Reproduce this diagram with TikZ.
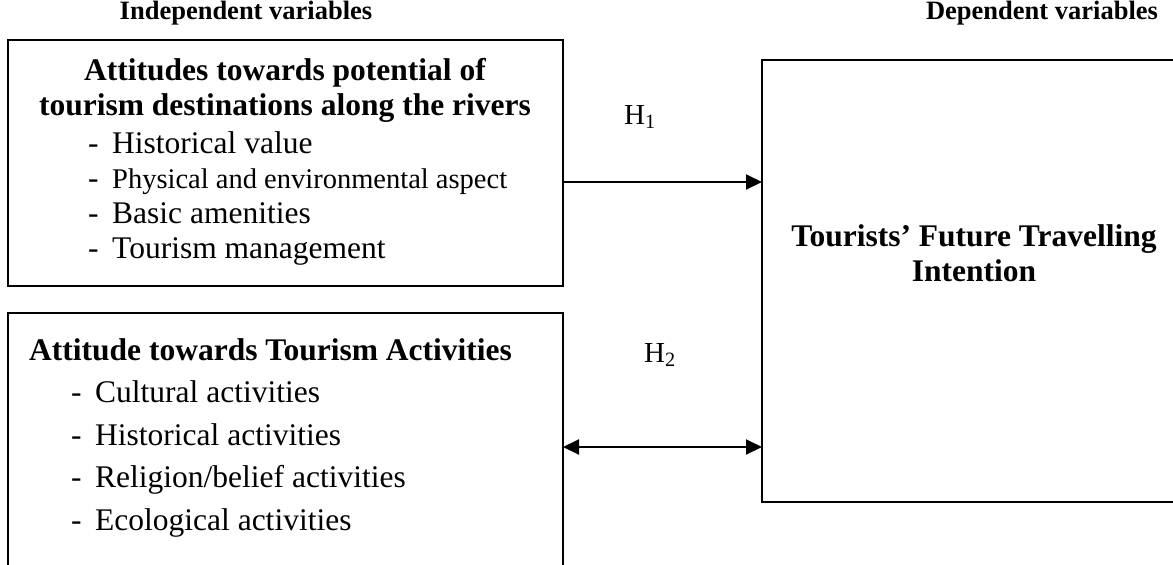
\documentclass[tikz,border=0pt]{standalone}
\usepackage{fontspec}
\setmainfont{Liberation Serif}
\usepackage{tikz}
\usetikzlibrary{positioning, arrows.meta}
\tikzset{
	box/.style={draw, line width=2pt, inner sep=0pt, outer sep=0pt}, % frame of each variable group
	head/.style={font=\fontsize{26.5}{30}\selectfont\bfseries}, % column headings
	title/.style={font=\fontsize{31.5}{35}\selectfont\bfseries, align=center, inner sep=0pt}, % box titles
	items/.style={font=\fontsize{31.5}{35}\selectfont, align=left, inner sep=0pt, anchor=west}, % the dashed lists
	link/.style={line width=2pt, -{Triangle[length=16pt, width=15pt]}}, % one way arrow
	hyp/.style={font=\fontsize{29}{34}\selectfont}, % hypothesis labels
}
\newcommand{\dash}[1]{\makebox[24pt][l]{-}#1}

\begin{document}
\begin{tikzpicture}[x=1pt, y=-1pt]
		\useasboundingbox (0,0) rectangle (1173,565);
		% Headings
		\node[head] (hind) at (246,13) {Independent variables};
		\node[head] (hdep) at (1042,13) {Dependent variables};
		
		% Boxes
		\node[box, minimum width=555pt, minimum height=246pt] (iv1) at (285.5,163) {};
		\node[box, minimum width=555pt, minimum height=280pt] (iv2) at (285.5,453) {};
		\node[box, minimum width=420pt, minimum height=442pt] (dv) at (972,281) {};
		
		% Box texts
		\node[title] (t1) at (285,90) {Attitudes towards potential of\\tourism destinations along the rivers};
		\node[items] (l1) at (88,198) {\dash{Historical value}\\
			\dash{{\fontsize{28.5}{35}\selectfont Physical and environmental aspect}}\\
			\dash{Basic amenities}\\
			\dash{Tourism management}};
		\node[title, anchor=west] (t2) at (29,350) {Attitude towards Tourism Activities};
		\node[items, font=\fontsize{31.5}{42.5}\selectfont] (l2) at (71,459) {\dash{Cultural activities}\\
			\dash{Historical activities}\\
			\dash{Religion/belief activities}\\
			\dash{Ecological activities}};
		\node[title] (t3) at (974,253) {Tourists' Future Travelling\\Intention};
		
		% Hypotheses
		\node[hyp] (h1) at (640,117) {H\textsubscript{1}};
		\node[hyp] (h2) at (660,355) {H\textsubscript{2}};
		\draw[link] ([yshift=-19pt]iv1.east) -- ([yshift=-19pt]iv1.east -| dv.west);
		\draw[link, {Triangle[length=16pt, width=15pt]}-{Triangle[length=16pt, width=15pt]}] ([yshift=6pt]iv2.east) -- ([yshift=6pt]iv2.east -| dv.west);
		
	\end{tikzpicture}
\end{document}
